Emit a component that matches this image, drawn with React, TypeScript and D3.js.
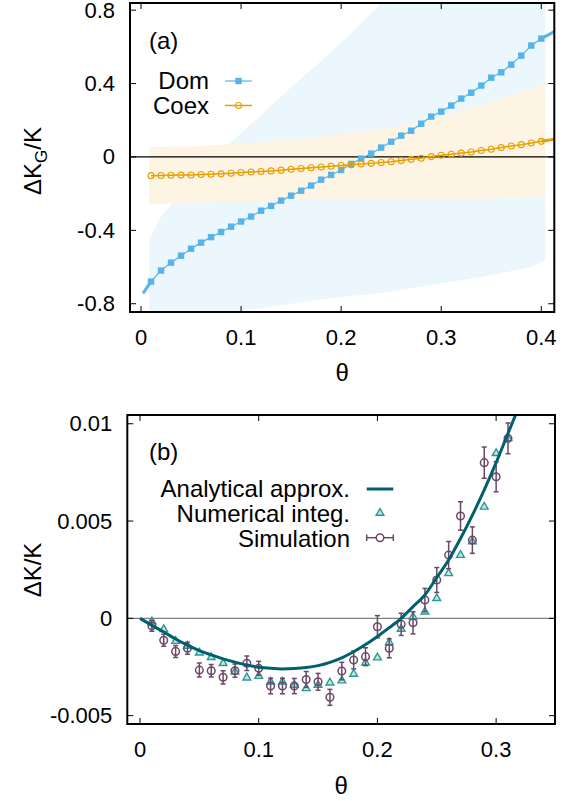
import React from 'react';
import * as d3 from 'd3';

// ---- panel (a) data ----
const thetaA = [0.01, 0.02, 0.03, 0.04, 0.05, 0.06, 0.07, 0.08, 0.09, 0.1, 0.11, 0.12, 0.13, 0.14, 0.15, 0.16, 0.17, 0.18, 0.19, 0.2,
  0.21, 0.22, 0.23, 0.24, 0.25, 0.26, 0.27, 0.28, 0.29, 0.3, 0.31, 0.32, 0.33, 0.34, 0.35, 0.36, 0.37, 0.38, 0.39, 0.4];
const domVals = [-0.679, -0.619, -0.576, -0.538, -0.5, -0.467, -0.437, -0.409, -0.38, -0.352, -0.325, -0.293, -0.267, -0.238, -0.211, -0.184, -0.156, -0.124, -0.098, -0.071,
  -0.038, -0.009, 0.018, 0.051, 0.083, 0.116, 0.143, 0.181, 0.22, 0.247, 0.28, 0.318, 0.35, 0.389, 0.432, 0.461, 0.503, 0.552, 0.607, 0.645];
const coexVals = [-0.102, -0.101, -0.1, -0.099, -0.098, -0.096, -0.094, -0.092, -0.089, -0.085, -0.082, -0.079, -0.076, -0.072, -0.067, -0.063, -0.059, -0.055, -0.051, -0.047,
  -0.042, -0.038, -0.035, -0.03, -0.026, -0.02, -0.013, -0.007, 0.002, 0.009, 0.015, 0.021, 0.027, 0.035, 0.042, 0.051, 0.06, 0.067, 0.076, 0.085];
// dense ends of the curves (drawn thick)
const domStartTheta = [0.002, 0.01];
const domStartVals = [-0.743, -0.679];
const edgeEndTheta = [0.4, 0.413];
const domEndVals = [0.645, 0.683];
const coexEndVals = [0.085, 0.096];

// shaded ranges
const domBandTheta = [0.008, 0.02, 0.03, 0.06, 0.087, 0.114, 0.15, 0.189, 0.241, 0.3, 0.35, 0.39, 0.404];
const domBandHi = [-0.45, -0.325, -0.26, -0.09, 0.065, 0.2, 0.38, 0.567, 0.84, 1.14, 1.4, 1.63, 1.7];
const domBandLo = [-0.92, -0.91, -0.9, -0.87, -0.85, -0.83, -0.8, -0.77, -0.74, -0.69, -0.645, -0.6, -0.565];
const coexBandTheta = [0.008, 0.05, 0.1, 0.15, 0.2, 0.25, 0.3, 0.35, 0.404];
const coexBandHi = [0.053, 0.058, 0.072, 0.095, 0.122, 0.16, 0.222, 0.3, 0.4];
const coexBandLo = [-0.256, -0.25, -0.242, -0.235, -0.23, -0.228, -0.227, -0.226, -0.224];

const xTicksA = [0, 0.1, 0.2, 0.3, 0.4];
const yTicksA = [-0.8, -0.4, 0, 0.4, 0.8];
const yLabelsA = ['-0.8', '-0.4', '0', '0.4', '0.8'];

// ---- panel (b) data ----
const thetaB = [0.01, 0.02, 0.03, 0.04, 0.05, 0.06, 0.07, 0.08, 0.09, 0.1, 0.11, 0.12, 0.13, 0.14, 0.15, 0.16, 0.17, 0.18, 0.19, 0.2,
  0.21, 0.22, 0.23, 0.24, 0.25, 0.26, 0.27, 0.28, 0.29, 0.3, 0.31];
const simVals = [-0.00038, -0.00113, -0.0017, -0.00154, -0.00266, -0.00269, -0.00303, -0.00269, -0.00231, -0.00257,
  -0.00348, -0.00348, -0.00348, -0.00314, -0.00326, -0.00406, -0.00271, -0.00214, -0.00197, -0.00043,
  -0.00154, -0.00031, -0.00023, 0.00094, 0.00197, 0.00325, 0.00526, 0.00402, 0.008, 0.00728, 0.00925];
const simErr = [0.00028, 0.00031, 0.00031, 0.00031, 0.00036, 0.00032, 0.00034, 0.00034, 0.00037, 0.00036,
  0.0004, 0.0004, 0.00039, 0.00041, 0.00043, 0.00041, 0.00045, 0.00046, 0.00046, 0.00057,
  0.00049, 0.00057, 0.00057, 0.0006, 0.00064, 0.0007, 0.00073, 0.00068, 0.0008, 0.00077, 0.00079];
const numVals = [-0.00017, -0.00057, -0.00117, -0.00142, -0.00177, -0.002, -0.00231, -0.00275, -0.00305, -0.00297,
  -0.00326, -0.00326, -0.00343, -0.0036, -0.00343, -0.00331, -0.0032, -0.00286, -0.00228, -0.00202,
  -0.00124, -0.00055, 0.00008, 0.00034, 0.00103, 0.00231, 0.00325, 0.00394, 0.00573, 0.00848, 0.00925];
const curveTheta = [0, 0.01, 0.02, 0.03, 0.04, 0.05, 0.06, 0.07, 0.08, 0.09, 0.1, 0.11, 0.12, 0.13, 0.14, 0.15, 0.16,
  0.17, 0.18, 0.19, 0.2, 0.21, 0.22, 0.23, 0.24, 0.25, 0.26, 0.27, 0.28, 0.29, 0.3, 0.31, 0.32];
const curveVals = [0, -0.00036, -0.0007, -0.00106, -0.00138, -0.00166, -0.00188, -0.00208, -0.00225, -0.0024, -0.00251,
  -0.00257, -0.0026, -0.00258, -0.00253, -0.00243, -0.00226, -0.00203, -0.00172, -0.00135, -0.00093, -0.00048,
  0, 0.0006, 0.0012, 0.0021, 0.003, 0.0041, 0.0053, 0.0066, 0.008, 0.0095, 0.011];

const xTicksB = [0, 0.1, 0.2, 0.3];
const yTicksB = [-0.005, 0, 0.005, 0.01];
const yLabelsB = ['-0.005', '0', '0.005', '0.01'];

const FONT = '"Liberation Sans", Arial, Helvetica, sans-serif';
const DOM = '#56b4e9';
const COEX = '#e69f00';
const ANALYT = '#00606e';
const NUM = '#2a9a96';
const SIM = '#6b4868';

type Frame = { l: number; r: number; t: number; b: number };

function Axes({ f, x, y, xt, yt, xl, yl }: any) {
  return (
    <g>
      {xt.map((v: number, i: number) => (
        <g key={'x' + i}>
          <line x1={x(v)} x2={x(v)} y1={f.b} y2={f.b - 6} stroke="#000" />
          <line x1={x(v)} x2={x(v)} y1={f.t} y2={f.t + 6} stroke="#000" />
          <text x={x(v)} y={f.b + 33} textAnchor="middle" fontSize={22}>{xl[i]}</text>
        </g>
      ))}
      {yt.map((v: number, i: number) => (
        <g key={'y' + i}>
          <line x1={f.l} x2={f.l + 6} y1={y(v)} y2={y(v)} stroke="#000" />
          <line x1={f.r} x2={f.r - 6} y1={y(v)} y2={y(v)} stroke="#000" />
          <text x={f.l - 15} y={y(v) + 7.5} textAnchor="end" fontSize={22}>{yl[i]}</text>
        </g>
      ))}
      <rect x={f.l} y={f.t} width={f.r - f.l} height={f.b - f.t} fill="none" stroke="#000" strokeWidth={2} />
    </g>
  );
}

function PanelA() {
  const f: Frame = { l: 130, r: 554.3, t: 3, b: 312 };
  const x = d3.scaleLinear().domain([-0.011, 0.413]).range([f.l, f.r]);
  const y = d3.scaleLinear().domain([-0.845, 0.839]).range([f.b, f.t]);

  const band = (th: number[], lo: number[], hi: number[]) =>
    d3.area<number>().x((d) => x(th[d])).y0((d) => y(lo[d])).y1((d) => y(hi[d]))(d3.range(th.length)) || '';
  const line = (th: number[], vals: number[]) =>
    d3.line<number>().x((d) => x(th[d])).y((d) => y(vals[d]))(d3.range(th.length)) || '';

  return (
    <g>
      <defs>
        <clipPath id="clipA">
          <rect x={f.l} y={f.t} width={f.r - f.l} height={f.b - f.t} />
        </clipPath>
      </defs>
      <g clipPath="url(#clipA)">
        <path d={band(domBandTheta, domBandLo, domBandHi)} fill="#ecf6fd" />
        <path d={band(coexBandTheta, coexBandLo, coexBandHi)} fill="#fdf4e3" />
        <line x1={f.l} x2={f.r} y1={y(0)} y2={y(0)} stroke="#000" strokeWidth={1.2} />
        <path d={line(thetaA, domVals)} fill="none" stroke={DOM} strokeWidth={1.2} />
        <path d={line(domStartTheta, domStartVals)} fill="none" stroke={DOM} strokeWidth={3} />
        <path d={line(edgeEndTheta, domEndVals)} fill="none" stroke={DOM} strokeWidth={3} />
        {thetaA.map((t, i) => (
          <rect key={'d' + i} x={x(t) - 3.2} y={y(domVals[i]) - 3.2} width={6.4} height={6.4} fill={DOM} />
        ))}
        <path d={line(thetaA, coexVals)} fill="none" stroke={COEX} strokeWidth={1.5} />
        <path d={line(edgeEndTheta, coexEndVals)} fill="none" stroke={COEX} strokeWidth={3} />
        {thetaA.map((t, i) => (
          <circle key={'c' + i} cx={x(t)} cy={y(coexVals[i])} r={3} fill="none" stroke={COEX} strokeWidth={1.1} />
        ))}
      </g>
      <Axes f={f} x={x} y={y} xt={xTicksA} yt={yTicksA} xl={['0', '0.1', '0.2', '0.3', '0.4']} yl={yLabelsA} />
      <text x={149} y={48.5} fontSize={24}>(a)</text>
      <text x={209} y={89.3} fontSize={24} textAnchor="end">Dom</text>
      <line x1={225} x2={252} y1={81} y2={81} stroke={DOM} strokeWidth={1.2} />
      <rect x={235.3} y={77.8} width={6.4} height={6.4} fill={DOM} />
      <text x={209} y={113.5} fontSize={24} textAnchor="end">Coex</text>
      <line x1={225} x2={252} y1={105.5} y2={105.5} stroke={COEX} strokeWidth={1.5} />
      <circle cx={238.5} cy={105.5} r={3} fill="none" stroke={COEX} strokeWidth={1.1} />
      <text transform="translate(33,161) rotate(-90)" textAnchor="middle" dy="0.35em" fontSize={24}>
        ΔK<tspan fontSize={17} dy="6">G</tspan><tspan dy="-6">/K</tspan>
      </text>
      <text x={(f.l + f.r) / 2} y={381} textAnchor="middle" fontSize={24}>θ</text>
    </g>
  );
}

function PanelB() {
  const f: Frame = { l: 127.3, r: 555, t: 415, b: 724 };
  const x = d3.scaleLinear().domain([-0.0107, 0.3496]).range([f.l, f.r]);
  const y = d3.scaleLinear().domain([-0.00543, 0.01045]).range([f.b, f.t]);
  const curve = d3.line<number>().x((d) => x(curveTheta[d])).y((d) => y(curveVals[d])).curve(d3.curveMonotoneX)(d3.range(curveTheta.length)) || '';
  const tri = d3.symbol(d3.symbolTriangle, 26)() || '';

  return (
    <g>
      <defs>
        <clipPath id="clipB">
          <rect x={f.l} y={f.t} width={f.r - f.l} height={f.b - f.t} />
        </clipPath>
      </defs>
      <g clipPath="url(#clipB)">
        <line x1={f.l} x2={f.r} y1={y(0)} y2={y(0)} stroke="#808080" strokeWidth={1.2} />
        {thetaB.map((t, i) => (
          <path key={'n' + i} d={tri} transform={`translate(${x(t)},${y(numVals[i])})`} fill="#c4e6e4" stroke={NUM} strokeWidth={1.4} />
        ))}
        {thetaB.map((t, i) => {
          const cx = x(t);
          const y1 = y(simVals[i] - simErr[i]);
          const y2 = y(simVals[i] + simErr[i]);
          return (
            <g key={'s' + i} stroke={SIM} strokeWidth={1.5} fill="none">
              <line x1={cx} x2={cx} y1={y1} y2={y2} />
              <line x1={cx - 2.5} x2={cx + 2.5} y1={y1} y2={y1} />
              <line x1={cx - 2.5} x2={cx + 2.5} y1={y2} y2={y2} />
              <circle cx={cx} cy={y(simVals[i])} r={3.8} />
            </g>
          );
        })}
        <path d={curve} fill="none" stroke={ANALYT} strokeWidth={3} />
      </g>
      <Axes f={f} x={x} y={y} xt={xTicksB} yt={yTicksB} xl={['0', '0.1', '0.2', '0.3']} yl={yLabelsB} />
      <text x={149} y={460} fontSize={24}>(b)</text>
      <text x={350} y={497} fontSize={24} textAnchor="end">Analytical approx.</text>
      <line x1={366.7} x2={393.3} y1={489} y2={489} stroke={ANALYT} strokeWidth={3} />
      <text x={350} y={521.5} fontSize={24} textAnchor="end">Numerical integ.</text>
      <path d={tri} transform="translate(380,513)" fill="#c4e6e4" stroke={NUM} strokeWidth={1.4} />
      <text x={350} y={546.5} fontSize={24} textAnchor="end">Simulation</text>
      <g stroke={SIM} strokeWidth={1.5} fill="none">
        <line x1={366.7} x2={393.3} y1={537.7} y2={537.7} />
        <line x1={366.7} x2={366.7} y1={534.5} y2={541} />
        <line x1={393.3} x2={393.3} y1={534.5} y2={541} />
        <circle cx={380} cy={537.7} r={3.8} fill="#fff" />
      </g>
      <text transform="translate(33,570) rotate(-90)" textAnchor="middle" dy="0.35em" fontSize={24}>ΔK/K</text>
      <text x={(f.l + f.r) / 2} y={794} textAnchor="middle" fontSize={24}>θ</text>
    </g>
  );
}

export default function App() {
  return (
    <svg width={580} height={801} style={{ position: 'absolute', left: 0, top: 0, background: '#fff' }} fontFamily={FONT}>
      <rect width={580} height={801} fill="#fff" />
      <PanelA />
      <PanelB />
    </svg>
  );
}
